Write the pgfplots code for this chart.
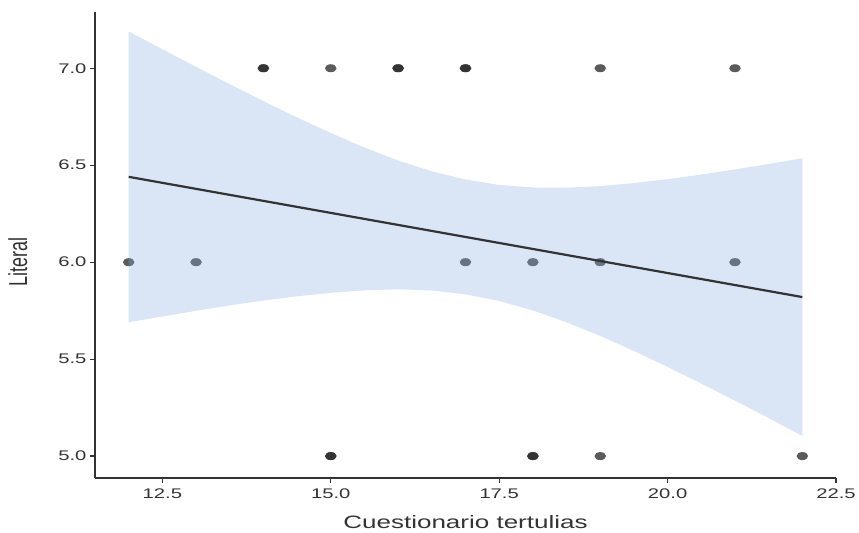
\documentclass[border=0pt]{standalone}
\usepackage{fontspec}
\setmainfont{Liberation Sans}[FakeStretch=1.45]
\newfontfamily\plainsans{Liberation Sans}
\usepackage{graphicx}
\usepackage{pgfplots}
\pgfplotsset{compat=1.18}

\definecolor{axgray}{HTML}{333333}
\definecolor{ptgray}{HTML}{272727}
\definecolor{bandblue}{RGB}{131,168,225}

\begin{document}
\begin{tikzpicture}
\begin{axis}[
    scale only axis,
    width=741bp, height=466bp,
    xmin=11.5, xmax=22.5,
    ymin=4.887, ymax=7.29,
    clip marker paths=true,
    axis x line*=bottom, axis y line*=left,
    axis line style={-, draw=axgray, line width=1.2bp},
    xtick={12.5,15,17.5,20,22.5},
    ytick={5,5.5,6,6.5,7},
    tick align=outside,
    major tick length=5bp,
    tick style={draw=axgray, line width=1.2bp},
    x tick label style={font=\fontsize{14}{16}\selectfont, text=axgray, yshift=-2bp},
    y tick label style={font=\fontsize{14}{16}\selectfont, text=axgray},
    /pgf/number format/.cd, fixed, fixed zerofill, precision=1, assume math mode=true,
    /pgfplots/.cd,
    xlabel={Cuestionario tertulias},
    xlabel style={font=\fontsize{18}{20}\selectfont, text=axgray, yshift=-10bp},
    ylabel={\scalebox{1}[1.45]{\plainsans\fontsize{18}{20}\selectfont Literal}},
    ylabel style={text=axgray, at={(axis description cs:-0.104,0.464)}, anchor=center},
]
% points (overlapping ones listed twice)
\addplot[only marks, mark=*, mark size=4bp,
    mark options={xscale=1.45, line width=0pt, draw=none, draw opacity=0,
                  fill=ptgray, fill opacity=0.76}]
  table {
x  y
14 7
14 7
15 7
16 7
16 7
17 7
17 7
19 7
21 7
12 6
13 6
17 6
18 6
19 6
21 6
15 5
15 5
18 5
18 5
19 5
22 5
};
% confidence band: upper edge left to right, lower edge right to left
\addplot[fill=bandblue, fill opacity=0.3, draw=none] coordinates {
(12,7.190) (12.5,7.098) (13,7.007) (13.5,6.918) (14,6.830) (14.5,6.746)
(15,6.666) (15.5,6.591) (16,6.524) (16.5,6.468) (17,6.426) (17.5,6.398)
(18,6.385) (18.5,6.384) (19,6.392) (19.5,6.408) (20,6.428) (20.5,6.452)
(21,6.478) (21.5,6.506) (22,6.536)
(22,5.104) (21.5,5.196) (21,5.286) (20.5,5.374) (20,5.460) (19.5,5.542)
(19,5.620) (18.5,5.690) (18,5.751) (17.5,5.800) (17,5.834) (16.5,5.854)
(16,5.860) (15.5,5.855) (15,5.842) (14.5,5.824) (14,5.802) (13.5,5.777)
(13,5.749) (12.5,5.720) (12,5.690)
} -- cycle;
% regression line
\addplot[draw=axgray, line width=2.2bp] coordinates {(12,6.44) (22,5.82)};
\end{axis}
\pgfresetboundingbox
\path ([shift={(-95bp,-55bp)}]current axis.south west)
  rectangle ([shift={(23bp,12bp)}]current axis.north east);
\end{tikzpicture}
\end{document}
